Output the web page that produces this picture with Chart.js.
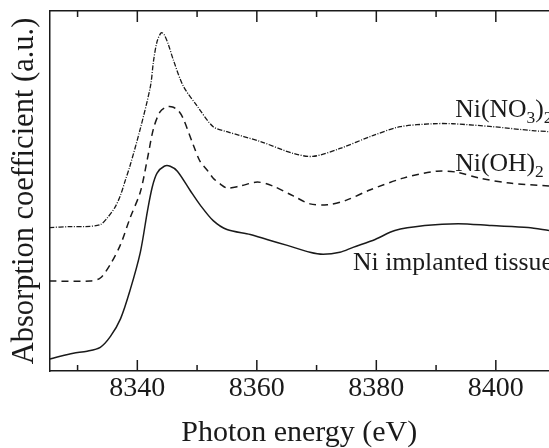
<!DOCTYPE html>
<html lang="en">
<head>
  <meta charset="UTF-8" />
  <title>Ni K-edge XANES</title>
  <style>
    * { margin: 0; padding: 0; }
    body { background: #fff; }
    .chartBox { width: 549px; height: 448px; }
  </style>
</head>
<body>
  <div class="chartBox">
    <canvas id="myChart" width="549" height="448"></canvas>
  </div>
  <script src="https://cdn.jsdelivr.net/npm/chart.js@4"></script>
  <script>
    // photon energy (eV) / absorption (a.u., offset per curve)
    const nitrateE = [8325.3, 8328.8, 8331.3, 8333.8, 8335.0, 8336.3, 8337.2, 8338.0, 8338.8, 8340.5,
      8342.2, 8342.7, 8343.3, 8344.0, 8344.5, 8345.2, 8346.0, 8347.7, 8350.0, 8352.7, 8355.0,
      8360.6, 8366.1, 8369.4, 8373.9, 8379.4, 8384.0, 8389.5, 8392.8, 8399.5, 8406.2, 8408.9];
    const nitrateY = [145, 146, 146, 148, 155, 166, 178, 193, 208, 245,
      288, 313, 333, 342, 340, 330, 315, 288, 268, 247, 242,
      232, 220, 217, 225, 238, 247, 250, 250, 247, 243, 242];

    const hydroxideE = [8325.3, 8332.1, 8333.8, 8335.5, 8337.2, 8338.8, 8340.5, 8341.7, 8342.7, 8343.8,
      8344.9, 8345.9, 8346.9, 8347.7, 8349.4, 8350.5, 8351.7, 8352.7, 8353.9, 8355.0, 8357.2,
      8360.1, 8362.7, 8366.1, 8368.9, 8371.8, 8375.1, 8378.9, 8384.5, 8390.1, 8393.5, 8397.3,
      8402.3, 8408.9];
    const hydroxideY = [91, 91, 94, 108, 128, 155, 181, 215, 245, 262,
      267, 267, 263, 255, 228, 212, 203, 195, 189, 185, 187,
      191, 187, 177, 169, 168, 173, 183, 195, 202, 201, 195,
      190, 187];

    const tissueE = [8325.3, 8327.1, 8329.3, 8331.6, 8333.8, 8335.5, 8337.2, 8338.8, 8340.5, 8341.7,
      8342.5, 8343.3, 8344.5, 8345.5, 8346.7, 8348.9, 8350.5, 8352.7, 8355.0, 8358.9, 8361.7,
      8365.1, 8368.9, 8371.1, 8373.9, 8376.1, 8379.8, 8383.1, 8388.1, 8393.7, 8399.3, 8405.4,
      8408.9];
    const tissueY = [12, 15, 18, 20, 24, 35, 53, 82, 120, 162,
      186, 200, 207, 207, 202, 182, 168, 152, 143, 138, 133,
      127, 120, 118, 120, 125, 133, 142, 147, 149, 147, 145,
      142];

    const xTicks = [8330, 8340, 8350, 8360, 8370, 8380, 8390, 8400];

    // curve labels: [energy, absorption, text parts (0 = normal, 1 = subscript)]
    const curveLabels = [
      [8393.2, 257, [["Ni(NO", 0], ["3", 1], [")", 0], ["2", 1]]],
      [8393.2, 202, [["Ni(OH)", 0], ["2", 1]]],
      [8376.1, 102, [["Ni implanted tissue", 0]]],
    ];

    const ink = "#1a1a1a";
    const serif = "'Liberation Serif', 'Times New Roman', serif";

    function pts(xs, ys) {
      return xs.map((x, i) => ({ x: x, y: ys[i] }));
    }

    const data = {
      datasets: [
        {
          label: "Ni(NO3)2",
          data: pts(nitrateE, nitrateY),
          borderColor: ink,
          borderWidth: 1.3,
          borderDash: [5, 1.5, 1, 1.5],
        },
        {
          label: "Ni(OH)2",
          data: pts(hydroxideE, hydroxideY),
          borderColor: ink,
          borderWidth: 1.5,
          borderDash: [7, 5],
        },
        {
          label: "Ni implanted tissue",
          data: pts(tissueE, tissueY),
          borderColor: ink,
          borderWidth: 1.5,
        },
      ],
    };

    // inward tick marks on bottom and top frame + curve labels
    const framePlugin = {
      id: "frame",
      afterDraw(chart) {
        const ctx = chart.ctx;
        const x = chart.scales.x;
        const y = chart.scales.y;
        const area = chart.chartArea;
        ctx.save();
        ctx.strokeStyle = ink;
        ctx.lineWidth = 1.5;
        x.ticks.forEach((t) => {
          const px = x.getPixelForValue(t.value);
          const len = t.value % 20 === 0 ? 11 : 6;
          ctx.beginPath();
          ctx.moveTo(px, area.bottom);
          ctx.lineTo(px, area.bottom - len);
          ctx.moveTo(px, area.top);
          ctx.lineTo(px, area.top + len);
          ctx.stroke();
        });
        ctx.fillStyle = ink;
        ctx.textBaseline = "alphabetic";
        ctx.textAlign = "left";
        curveLabels.forEach(([e, v, parts]) => {
          let px = x.getPixelForValue(e);
          const py = y.getPixelForValue(v);
          parts.forEach(([txt, sub]) => {
            ctx.font = (sub ? "17.5px " : "25.7px ") + serif;
            ctx.fillText(txt, px, py + (sub ? 6 : 0));
            px += ctx.measureText(txt).width;
          });
        });
        ctx.restore();
      },
    };

    const options = {
      responsive: false,
      animation: false,
      layout: { padding: { top: 11, left: 0, right: 0, bottom: 0 } },
      elements: {
        point: { radius: 0 },
        line: { tension: 0.3, fill: false },
      },
      plugins: {
        legend: { display: false },
        tooltip: { enabled: false },
      },
      scales: {
        x: {
          type: "linear",
          position: "bottom",
          min: 8325.3,
          max: 8408.9,
          afterBuildTicks: (scale) => {
            scale.ticks = xTicks.map((v) => ({ value: v }));
          },
          grid: { display: false, drawTicks: false },
          border: { display: true, color: ink, width: 1.5 },
          ticks: {
            padding: 4,
            color: ink,
            maxRotation: 0,
            autoSkip: false,
            font: { family: serif, size: 28, lineHeight: 1 },
            callback: (v) => (v % 20 === 0 ? String(v) : ""),
          },
          title: {
            display: true,
            text: "Photon energy (eV)",
            color: ink,
            padding: { top: 11, bottom: 0 },
            font: { family: serif, size: 30, lineHeight: 1 },
          },
        },
        x2: {
          type: "linear",
          position: "top",
          min: 8325.3,
          max: 8408.9,
          grid: { display: false, drawTicks: false },
          border: { display: true, color: ink, width: 1.5 },
          ticks: { display: false },
        },
        y: {
          min: 0,
          max: 364,
          grid: { display: false, drawTicks: false },
          border: { display: true, color: ink, width: 1.5 },
          ticks: { display: false },
          title: {
            display: true,
            text: "Absorption coefficient (a.u.)",
            color: ink,
            padding: { top: 10, bottom: 9 },
            font: { family: serif, size: 30.5, lineHeight: 1 },
          },
        },
      },
    };

    const config = {
      type: "line",
      data: data,
      options: options,
      plugins: [framePlugin],
    };

    const ctx = document.getElementById("myChart").getContext("2d");
    const myChart = new Chart(ctx, config);
  </script>
</body>
</html>
